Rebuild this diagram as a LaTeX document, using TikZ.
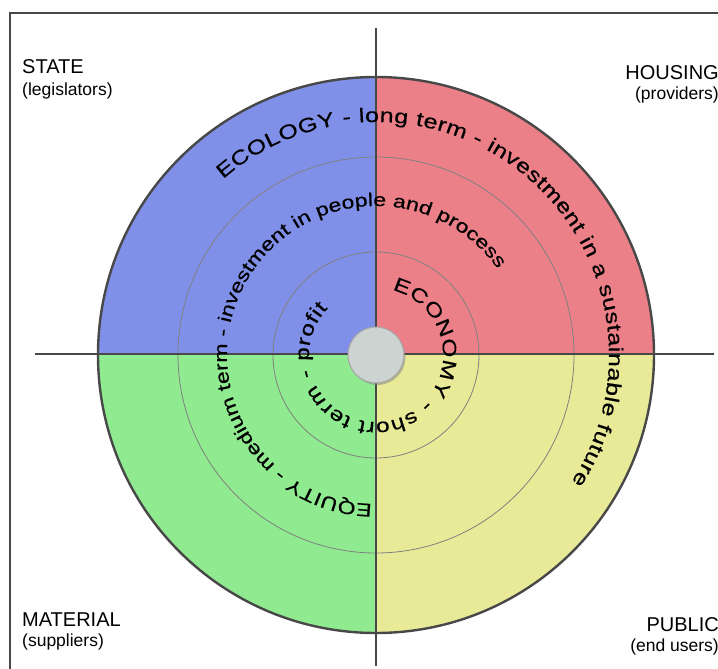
\documentclass[tikz,border=0pt]{standalone}
\usepackage{fontspec}
\setmainfont{Liberation Sans}
\newfontfamily\arcfont[FakeStretch=1.25, FakeBold=0.5]{Liberation Sans}
\usetikzlibrary{decorations.text,shadows}

\definecolor{ecoblue}{RGB}{128,144,232}
\definecolor{housered}{RGB}{236,128,136}
\definecolor{equgreen}{RGB}{144,234,144}
\definecolor{pubyellow}{RGB}{232,234,152}
\definecolor{hubgrey}{RGB}{205,211,208}
\definecolor{linegrey}{RGB}{72,72,72}

\begin{document}
\begin{tikzpicture}[x=1pt, y=1pt,
    ring/.style={draw=gray, line width=0.8pt},
    axis/.style={draw=linegrey, line width=2.4pt},
    title/.style={font=\fontsize{20}{22}\selectfont, inner sep=0pt},
    sub/.style={font=\fontsize{17.5}{20}\selectfont, inner sep=0pt}]
    \useasboundingbox (-376,-314) rectangle (342,355);
    \draw[line width=1.2pt, linegrey] (342,342) -- (-366,342) -- (-366,-314);

    % the four quarters
    \foreach \col/\ang in {housered/0, ecoblue/90, equgreen/180, pubyellow/270}
        \fill[\col] (0,0) -- (\ang:278) arc[start angle=\ang, delta angle=90, radius=278] -- cycle;
    \draw[ring] (0,0) circle (198);
    \draw[ring] (0,0) circle (103);

    \coordinate (top) at (0,327);
    \coordinate (bottom) at (0,-311);
    \coordinate (left) at (-341,1);
    \coordinate (right) at (338,1);
    \draw[axis] (top) -- (bottom);
    \draw[axis] (left) -- (right);
    \draw[draw=linegrey, line width=2.4pt] (0,0) circle (278);

    \node[circle, minimum size=56pt, inner sep=0pt, fill=hubgrey, draw=gray!70, line width=1pt,
        drop shadow={shadow xshift=1.5pt, shadow yshift=-2pt, opacity=0.5}] (hub) at (0,0) {};

    % text round the rings
    \path[decorate, decoration={text along path, text align=fit to path,
        text={|\arcfont\fontsize{20}{22}\selectfont|ECOLOGY - long term - investment in a sustainable future}}]
        (131:233) arc[start angle=131, end angle=-33, radius=233];
    \path[decorate, decoration={text along path, text align=fit to path,
        text={|\arcfont\fontsize{18.5}{22}\selectfont|EQUITY - medium term - investment in people and process}}]
        (268.5:149) arc[start angle=268.5, end angle=36, radius=149];
    \path[decorate, decoration={text along path, text align=fit to path,
        text={|\arcfont\fontsize{19.5}{22}\selectfont|ECONOMY - short term - profit}}]
        (76:67) arc[start angle=76, end angle=-224, radius=67];

    % corners
    \node[title, anchor=base west] (state) at (-354,281) {STATE};
    \node[sub, anchor=base west] (statesub) at (-354,259) {(legislators)};
    \node[title, anchor=base east] (housing) at (343,275) {HOUSING};
    \node[sub, anchor=base east] (housingsub) at (343,255) {(providers)};
    \node[title, anchor=base west] (material) at (-354,-271) {MATERIAL};
    \node[sub, anchor=base west] (materialsub) at (-354,-291) {(suppliers)};
    \node[title, anchor=base east] (public) at (343,-276) {PUBLIC};
    \node[sub, anchor=base east] (publicsub) at (343,-296) {(end users)};
\end{tikzpicture}
\end{document}
